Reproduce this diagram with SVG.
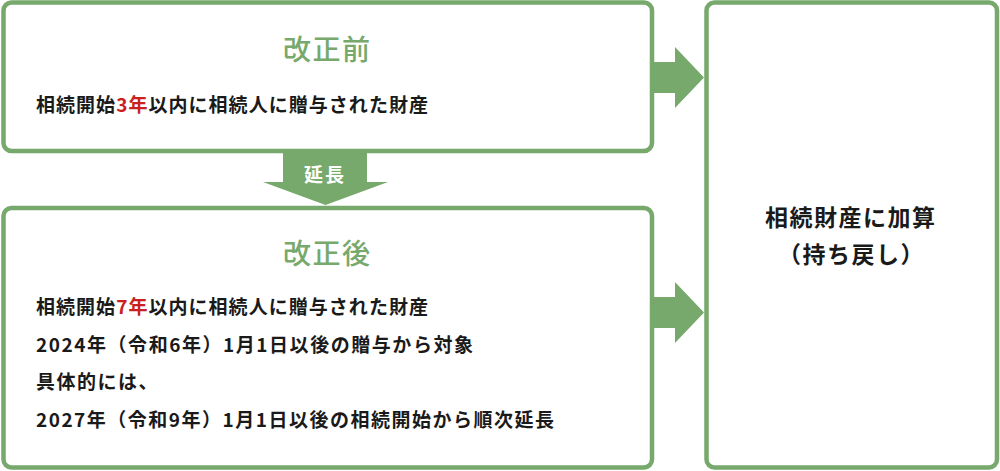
<svg xmlns="http://www.w3.org/2000/svg" width="1000" height="471" viewBox="0 0 1000 471">
  <style>
    .box { fill: #ffffff; stroke: #76a96b; stroke-width: 4.5; }
    .arrow { fill: #76a96b; stroke: none; }
    .title { font-family: "Noto Sans CJK JP", "Noto Sans", sans-serif; font-size: 28px; font-weight: 500; fill: #76a96b; letter-spacing: 1.5px; }
    .body { font-family: "Noto Sans CJK JP", "Noto Sans", sans-serif; font-size: 19px; font-weight: 600; fill: #1a1a1a; }
    .red { fill: #c8211f; }
    .big { font-family: "Noto Sans CJK JP", "Noto Sans", sans-serif; font-size: 23px; font-weight: 600; fill: #1a1a1a; letter-spacing: 1.5px; }
    .lbl { font-family: "Noto Sans CJK JP", "Noto Sans", sans-serif; font-size: 19px; font-weight: 600; fill: #ffffff; letter-spacing: 2px; }
  </style>
  <rect width="1000" height="471" fill="#ffffff"/>
  <g id="connectors">
    <polygon class="arrow" points="654,62 675,62 675,47 704,77.5 675,108 675,93 654,93"/>
    <polygon class="arrow" points="654,297 675,297 675,282 704,312.5 675,343 675,328 654,328"/>
    <g id="extend-arrow">
      <polygon class="arrow" points="283,153 367,153 367,182 388,182 325.5,205 263,182 283,182"/>
      <text class="lbl" x="304" y="182">延長</text>
    </g>
  </g>
  <g id="before">
    <rect class="box" x="3.5" y="2.5" width="648.5" height="148.5" rx="8"/>
    <text class="title" x="283" y="60">改正前</text>
    <text class="body" x="36" y="112" textLength="392" lengthAdjust="spacing">相続開始<tspan class="red">3年</tspan>以内に相続人に贈与された財産</text>
  </g>
  <g id="after">
    <rect class="box" x="3.5" y="208" width="648.5" height="259.5" rx="8"/>
    <text class="title" x="283" y="264">改正後</text>
    <text class="body" x="36" y="314" textLength="392" lengthAdjust="spacing">相続開始<tspan class="red">7年</tspan>以内に相続人に贈与された財産</text>
    <text class="body" x="36" y="351.5" textLength="437" lengthAdjust="spacing">2024年（令和6年）1月1日以後の贈与から対象</text>
    <text class="body" x="36" y="389" letter-spacing="1.5">具体的には、</text>
    <text class="body" x="36" y="426.5" textLength="518" lengthAdjust="spacing">2027年（令和9年）1月1日以後の相続開始から順次延長</text>
  </g>
  <g id="result">
    <rect class="box" x="706.5" y="2.5" width="290.5" height="465" rx="8"/>
    <text class="big" x="765" y="226">相続財産に加算</text>
    <text class="big" x="778" y="263">（持ち戻し）</text>
  </g>
</svg>
